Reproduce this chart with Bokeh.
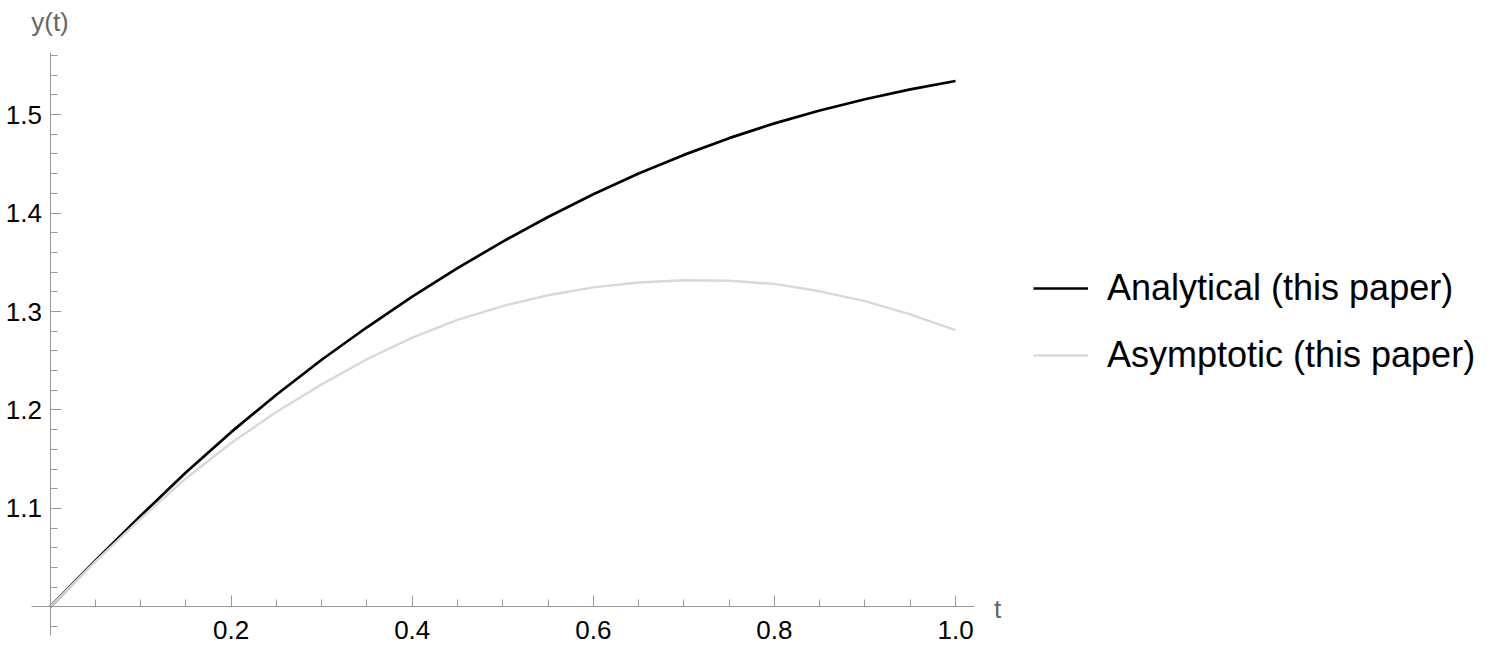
from bokeh.plotting import figure
from bokeh.models import (LinearAxis, FixedTicker, Legend, LegendItem, Label, Range1d,
                          PrintfTickFormatter)
from bokeh.embed import file_html
from bokeh.resources import INLINE

# ---- data ----
t = [0.00, 0.05, 0.10, 0.15, 0.20, 0.25, 0.30, 0.35, 0.40, 0.45, 0.50,
     0.55, 0.60, 0.65, 0.70, 0.75, 0.80, 0.85, 0.90, 0.95, 1.00]
analytical = [1.0000, 1.0470, 1.0925, 1.1365, 1.1775, 1.2155, 1.2510, 1.2840, 1.3150, 1.3440, 1.3710,
              1.3960, 1.4190, 1.4400, 1.4590, 1.4760, 1.4910, 1.5040, 1.5155, 1.5255, 1.5340]
asymptotic = [1.0000, 1.0460, 1.0895, 1.1305, 1.1665, 1.1980, 1.2260, 1.2515, 1.2735, 1.2915, 1.3055,
              1.3165, 1.3245, 1.3295, 1.3318, 1.3312, 1.3280, 1.3205, 1.3105, 1.2970, 1.2810]

x_major = [0.2, 0.4, 0.6, 0.8, 1.0]
x_minor = [0.05, 0.10, 0.15, 0.25, 0.30, 0.35, 0.45, 0.50, 0.55, 0.65, 0.70, 0.75, 0.85, 0.90, 0.95]
y_major = [1.1, 1.2, 1.3, 1.4, 1.5]
y_minor = [0.98, 1.02, 1.04, 1.06, 1.08, 1.12, 1.14, 1.16, 1.18, 1.22, 1.24, 1.26, 1.28,
           1.32, 1.34, 1.36, 1.38, 1.42, 1.44, 1.46, 1.48, 1.52, 1.54, 1.56]

series_names = ["Analytical (this paper)", "Asymptotic (this paper)"]

FONT = "Liberation Sans"
AXIS_COLOR = "#999999"

W, H = 1495, 649
p = figure(width=W, height=H,
           x_range=Range1d(-0.05467, 1.5963), y_range=Range1d(0.95685, 1.61574),
           x_axis_type=None, y_axis_type=None,
           toolbar_location=None, output_backend="svg",
           min_border=0, outline_line_color=None)
p.background_fill_color = "white"
p.border_fill_color = "white"

def style_axis(ax):
    ax.axis_line_color = AXIS_COLOR
    ax.axis_line_width = 1
    ax.major_tick_line_color = AXIS_COLOR
    ax.minor_tick_line_color = AXIS_COLOR
    ax.major_tick_in = 11
    ax.major_tick_out = 0
    ax.minor_tick_in = 7
    ax.minor_tick_out = 0
    ax.major_label_text_font = FONT
    ax.major_label_text_font_size = "26px"
    ax.major_label_text_color = "#000000"
    ax.formatter = PrintfTickFormatter(format="%.1f")

xaxis = LinearAxis(fixed_location=1.0,
                   ticker=FixedTicker(ticks=x_major, minor_ticks=x_minor),
                   bounds=(-0.0204, 1.021))
style_axis(xaxis)
xaxis.major_label_standoff = 14
p.add_layout(xaxis, "below")

yaxis = LinearAxis(fixed_location=0.0,
                   ticker=FixedTicker(ticks=y_major, minor_ticks=y_minor),
                   bounds=(0.971, 1.563))
style_axis(yaxis)
yaxis.major_label_standoff = 8
p.add_layout(yaxis, "left")

r1 = p.line(t, analytical, line_color="#000000", line_width=2.7)
r2 = p.line(t, asymptotic, line_color="#d9d9d9", line_width=2.4)

# axis labels
p.add_layout(Label(x=0.0, y=1.5935, text="y(t)", text_align="center",
                   text_baseline="alphabetic", text_font=FONT,
                   text_font_size="26px", text_color="#666666"))
p.add_layout(Label(x=1.0464, y=0.9975, text="t", text_align="center",
                   text_baseline="alphabetic", text_font=FONT,
                   text_font_size="26px", text_color="#666666"))

legend = Legend(items=[LegendItem(label=series_names[0], renderers=[r1]),
                       LegendItem(label=series_names[1], renderers=[r2])],
                location=(1033, 273))
legend.label_text_font = FONT
legend.label_text_font_size = "36px"
legend.label_text_color = "#000000"
legend.glyph_width = 55
legend.glyph_height = 42
legend.label_height = 42
legend.spacing = 25
legend.padding = 0
legend.margin = 0
legend.label_standoff = 19
legend.border_line_color = None
legend.background_fill_alpha = 0
p.add_layout(legend)

open("out.html", "w").write(file_html(p, INLINE))
